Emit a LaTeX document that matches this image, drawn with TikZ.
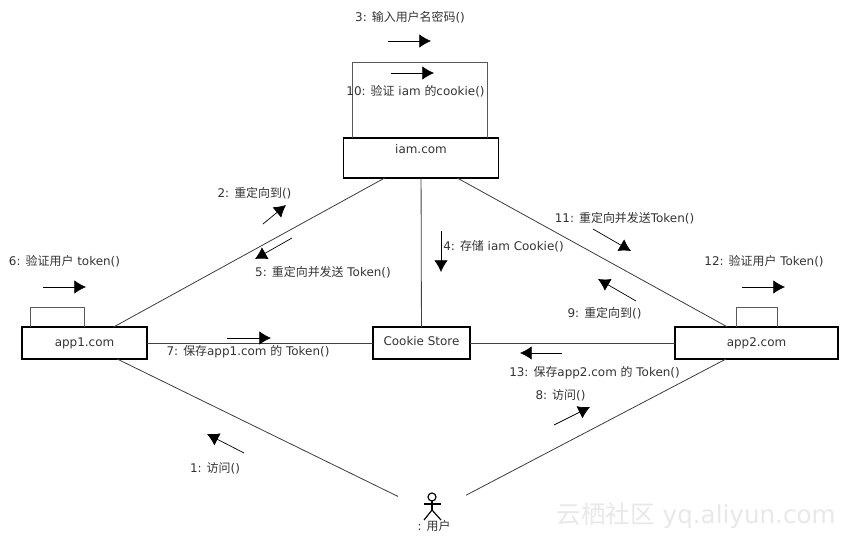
\documentclass[tikz,border=0pt]{standalone}
\usepackage{fontspec}
\setmainfont{DejaVu Sans}
\newfontfamily\cjk{Noto Sans CJK SC}
\usetikzlibrary{arrows.meta}

\begin{document}
\begin{tikzpicture}[
    x=0.03cm, y=-0.03cm,
    font=\fontsize{10.2}{12}\selectfont,
    obj/.style={rectangle, draw=black, line width=1.5pt, minimum height=0.96cm, outer sep=0pt, inner sep=0pt},
    link/.style={draw=black!75, line width=0.7pt},
    selfloop/.style={draw=black!65, line width=0.8pt},
    msg/.style={-{Latex[length=10pt,width=11.5pt]}, draw=black, line width=0.6pt},
    actor/.style={draw=black, line width=1pt},
    txt/.style={text=black!80, inner sep=0pt},
]
\useasboundingbox (0,0) rectangle (846,541);

% objects
\node[obj, minimum width=4.65cm, minimum height=1.2cm, label={[txt, yshift=0.26cm]center:iam.com}] (iam) at (421,158) {};
\node[obj, minimum width=3.75cm, label={[txt]center:app1.com}] (app1) at (84.5,343) {};
\node[obj, minimum width=4.89cm, label={[txt]center:app2.com}] (app2) at (756.5,343) {};
\node[obj, minimum width=2.91cm, line width=1.2pt, label={[txt, yshift=0.06cm]center:Cookie Store}] (store) at (421.5,343) {};
\node[minimum width=2.04cm, minimum height=1.5cm, inner sep=0pt, outer sep=0pt] (user) at (432,513) {};

% links between objects
\draw[link] (iam) -- (app1);
\draw[link] (iam) -- (store);
\draw[link] (iam) -- (app2);
\draw[link] (app1) -- (store);
\draw[link] (store) -- (app2);
\draw[link] (app1) -- (user);
\draw[link] (app2) -- (user);

% self calls
\draw[selfloop] ([xshift=0.27cm]iam.north west) -- ++(0,-76) -| ([xshift=-0.33cm]iam.north east);
\draw[selfloop] ([xshift=0.24cm]app1.north west) -- ++(0,-20) -| ([xshift=-1.89cm]app1.north east);
\draw[selfloop] ([xshift=1.83cm]app2.north west) -- ++(0,-20) -| ([xshift=-1.83cm]app2.north east);

% stick figure
\begin{scope}[shift={(user.center)}]
\draw[actor] (0,-16) circle (4);
\draw[actor] (0,-12) -- (0,-3) coordinate (hip);
\draw[actor] (-8,-9) -- (9,-9);
\draw[actor] (-8,7) -- (hip) -- (9,7);
\end{scope}

% message direction arrows
\foreach \n/\xa/\ya/\xb/\yb in {
    m3/388/41/431/41, m10/391/73/434/73, m2/263/224/286/205, m5/292/238/255/259,
    m4/441/231/441/272, m11/593/229/631/251, m9/636/301/598/279, m12/742/287/785/287,
    m6/43/287/86/287, m7/227/338/271/338, m13/562/353/520/353, m8/554/425/590/407,
    m1/244/453/207/434} {
  \coordinate (\n a) at (\xa,\ya);
  \coordinate (\n b) at (\xb,\yb);
  \draw[msg] (\n a) -- (\n b);
}

% message labels
\node[txt] (l3) at (410,17) {3: {\cjk 输入用户名密码}()};
\node[txt] (l10) at (415.5,91) {10: {\cjk 验证} iam {\cjk 的}cookie()};
\node[txt] (l2) at (254.5,193) {2: {\cjk 重定向到}()};
\node[txt] (l5) at (323,272) {5: {\cjk 重定向并发送} Token()};
\node[txt] (l4) at (503.5,246) {4: {\cjk 存储} iam Cookie()};
\node[txt] (l11) at (624.5,218) {11: {\cjk 重定向并发送}Token()};
\node[txt] (l9) at (604.5,313) {9: {\cjk 重定向到}()};
\node[txt] (l6) at (64.5,261) {6: {\cjk 验证用户} token()};
\node[txt] (l12) at (764,261) {12: {\cjk 验证用户} Token()};
\node[txt] (l7) at (248,352) {7: {\cjk 保存}app1.com {\cjk 的} Token()};
\node[txt] (l13) at (594.5,373) {13: {\cjk 保存}app2.com {\cjk 的} Token()};
\node[txt] (l8) at (560.5,395) {8: {\cjk 访问}()};
\node[txt] (l1) at (215,468) {1: {\cjk 访问}()};
\node[txt] (luser) at (434,526) {: {\cjk 用户}};

% site mark
\node[text=black!9, font=\fontsize{21}{24}\selectfont, inner sep=0pt] (mark) at (696,516) {{\cjk 云栖社区} yq.aliyun.com};
\end{tikzpicture}
\end{document}
